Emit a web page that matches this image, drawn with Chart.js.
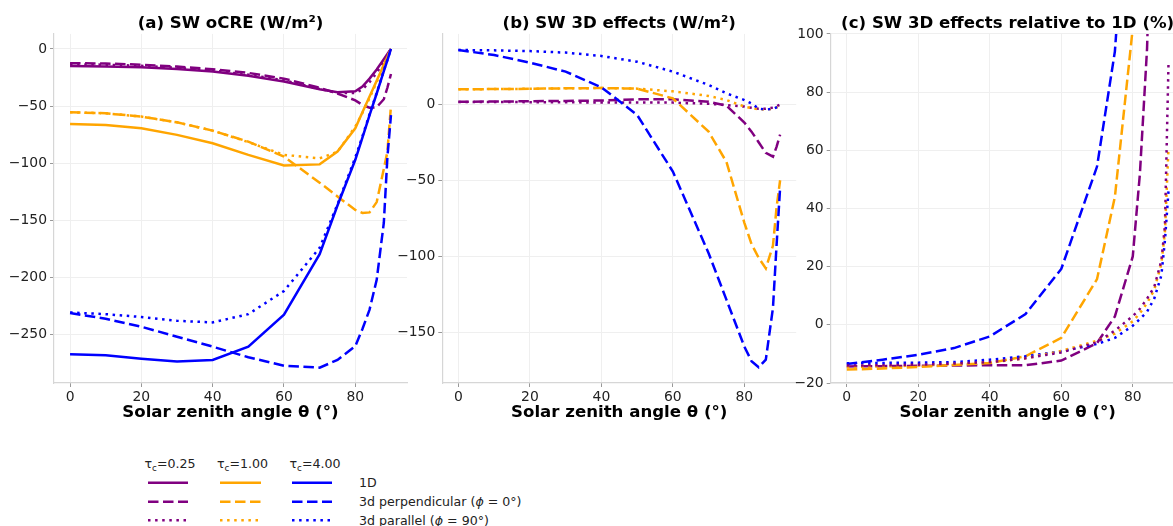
<!DOCTYPE html>
<html><head><meta charset="utf-8">
<script src="https://cdn.jsdelivr.net/npm/chart.js@4.4.1/dist/chart.umd.min.js"></script>
<style>
html,body{margin:0;padding:0;background:#fff;overflow:hidden;width:1173px;height:526px;}
#wrap{position:relative;width:1173px;height:526px;overflow:hidden;background:#fff;}
canvas{position:absolute;top:0;}
.leg{position:absolute;font-family:"DejaVu Sans",sans-serif;font-size:12.6px;line-height:17px;color:#222;white-space:nowrap;}
.c{transform:translateX(-50%);}
sub{font-size:70%;vertical-align:-3px;line-height:0;}
</style></head><body><div id="wrap">
<canvas id="ca" width="420" height="430" style="left:0px;width:420px;height:430px"></canvas>
<canvas id="cb" width="405" height="430" style="left:395px;width:405px;height:430px"></canvas>
<canvas id="cc" width="400" height="430" style="left:790px;width:400px;height:430px"></canvas>
<svg id="legsvg" width="400" height="86" style="position:absolute;left:0;top:440px"></svg>
<div class="leg c" style="left:170px;top:455px">τ<sub>c</sub>=0.25</div>
<div class="leg c" style="left:242.5px;top:455px">τ<sub>c</sub>=1.00</div>
<div class="leg c" style="left:315px;top:455px">τ<sub>c</sub>=4.00</div>
<div class="leg" style="left:359px;top:474px">1D</div>
<div class="leg" style="left:359px;top:493px">3d perpendicular (<i>ϕ</i> = 0°)</div>
<div class="leg" style="left:359px;top:511.5px">3d parallel (<i>ϕ</i> = 90°)</div>
</div>
<script>
// ---- data ----
const theta = [0,10,20,30,40,50,60,70,75,80,82,84,86,88,89,90];
const xTicks = [0,20,40,60,80];

// (a) SW oCRE (W/m²)
const a1D_025   = [-15,-15.3,-16,-17.5,-19.8,-23.5,-28.6,-35.3,-38,-37,-33,-26,-18,-9,-4.5,0];
const aPerp_025 = [-12.5,-12.8,-13.8,-15.5,-17.8,-21,-26,-34,-39,-45,-49,-51.5,-51,-44,-34,-22];
const aPar_025  = [-13.5,-13.8,-14.8,-16.5,-19,-22.5,-27.5,-35,-38.5,-38.5,-35.5,-29,-21,-11,-5.5,0];
const a1D_100   = [-65.6,-66.5,-69.4,-75.2,-82.5,-92.7,-102,-101,-89.8,-69.4,-55.5,-41.6,-27.8,-13.9,-7,0];
const aPerp_100 = [-55.4,-56.3,-59.2,-64.2,-71.5,-81.1,-94.2,-117,-129,-140.9,-143.5,-143,-134,-105,-90,-50];
const aPar_100  = [-55.4,-56.3,-59.2,-64.2,-71.5,-81.5,-92.7,-95.7,-90,-68,-56,-43,-29,-14.5,-7,0];
const a1D_400   = [-267,-268,-271,-273.5,-272,-260.5,-232.5,-179.5,-137,-97,-77.5,-58,-39,-19.5,-10,0];
const aPerp_400 = [-231,-236,-243,-251.7,-260.4,-269.7,-277.1,-278.8,-272,-260,-245,-228,-202,-152,-95,-58];
const aPar_400  = [-230.5,-232,-234.5,-237.8,-239.2,-232,-211.7,-174,-136,-95,-76.5,-57,-38.5,-19,-9.5,0];
const yTicksA = [0,-50,-100,-150,-200,-250];

// (b) SW 3D effects (W/m²)
const bPerp_025 = [1.7,1.8,2,2.2,2.5,3.3,3.3,1.7,-1,-12,-18,-25,-32,-34.5,-28,-20];
const bPar_025  = [1.5,1.5,1.4,1.3,1.2,1.1,1.1,0.3,-0.5,-1.5,-2.3,-3,-3,-2.2,-1.2,-0.3];
const bPerp_100 = [9.9,10,10.2,10.5,10.7,10.3,3.9,-18,-38,-78,-92,-101,-108,-93,-68,-50];
const bPar_100  = [9.9,10,10.2,10.5,10.7,10.3,8.5,5.5,2.8,-1.5,-2.5,-3.3,-3.4,-3,-2,-0.8];
const bPerp_400 = [35.7,32.4,27.4,21.5,11.2,-7,-44.3,-98,-128.7,-159.5,-169,-173,-168,-134,-93,-55];
const bPar_400  = [35.7,35.5,35,34,31.8,28,21.5,12.7,7.2,2.8,0.5,-2.8,-3.5,-3,-2,-1];
const yTicksB = [0,-50,-100,-150];

// (c) SW 3D effects relative to 1D (%)
const cPerp_025 = [-14.3,-14.2,-14.1,-14,-13.9,-13.9,-12.3,-6.3,2.9,23.5,52,95,180,400,700,null];
const cPar_025  = [-14,-13.9,-13.7,-13.3,-12.8,-11.5,-9.5,-6,-2,3,5.5,9,13,22,34,90];
const cPerp_100 = [-15.4,-15,-14.5,-13.8,-13.1,-10.8,-4.5,15.7,44,102,170,250,380,650,1000,null];
const cPar_100  = [-14.5,-14.3,-14,-13.5,-13,-11.5,-9,-5.5,-3,1.2,4,7.5,12,21,32,61];
const cPerp_400 = [-13.5,-12,-10.3,-8,-4,3.7,19.2,54.4,94,180,260,380,600,1000,1800,null];
const cPar_400  = [-13.2,-13.1,-13,-12.8,-12,-10.8,-9.1,-6.6,-4.5,-0.3,2,4.5,9,17,29,46];
const yTicksC = [-20,0,20,40,60,80,100];

// ---- styles ----
const PURPLE='#800080', ORANGE='#FFA500', BLUE='#0000FF';
const DASH = {solid:[], dashed:[10.5,4.5], dotted:[2.5,4.6]};
const LW = 2.5;
const FONT = '"DejaVu Sans", sans-serif';
const fmt = v => String(v).replace('-', '\u2212');

function mk(values, color, style){
  return {
    data: theta.map((t,i)=>({x:t, y:values[i]})),
    borderColor: color, backgroundColor: color, borderWidth: LW,
    borderDash: DASH[style], borderCapStyle:'butt', borderJoinStyle:'miter',
    pointRadius:0, pointHoverRadius:0, fill:false, tension:0, spanGaps:false
  };
}

function panel(id, title, datasets, yMin, yMax, yTicks, yW, padRight){
  new Chart(document.getElementById(id), {
    type:'line',
    data:{datasets},
    options:{
      responsive:false, animation:false, events:[],
      layout:{padding:{left:0,right:padRight,top:0,bottom:0}},
      plugins:{
        legend:{display:false}, tooltip:{enabled:false},
        title:{display:true, text:title, fullSize:false, color:'#000',
          font:{family:FONT,size:16.6,weight:'bold'}, padding:{top:14,bottom:0}}
      },
      scales:{
        x:{type:'linear', min:-4.5, max:94.5,
          afterBuildTicks: s=>{ s.ticks = xTicks.map(v=>({value:v})); },
          afterFit: s=>{ s.height = 47; },
          grid:{color:'#efefef', lineWidth:1, tickLength:4, tickColor:'#999', drawTicks:true},
          border:{color:'#d6d6d6', width:1.2},
          ticks:{color:'#222', font:{family:FONT,size:13.9}, padding:2, maxRotation:0, autoSkip:false, callback:fmt},
          title:{display:true, text:'Solar zenith angle θ (°)', color:'#000',
            font:{family:FONT,size:16.6,weight:'bold'}, padding:{top:0,bottom:7}}
        },
        y:{type:'linear', min:yMin, max:yMax,
          afterBuildTicks: s=>{ s.ticks = yTicks.map(v=>({value:v})); },
          afterFit: s=>{ s.width = yW; },
          grid:{color:'#efefef', lineWidth:1, tickLength:4, tickColor:'#999', drawTicks:true},
          border:{color:'#d6d6d6', width:1.2},
          ticks:{color:'#222', font:{family:FONT,size:13.9}, padding:3, autoSkip:false, callback:fmt}
        }
      }
    }
  });
}

panel('ca','(a) SW oCRE (W/m²)', [
  mk(aPar_400,BLUE,'dotted'), mk(aPerp_400,BLUE,'dashed'), mk(a1D_400,BLUE,'solid'),
  mk(aPar_100,ORANGE,'dotted'), mk(aPerp_100,ORANGE,'dashed'), mk(a1D_100,ORANGE,'solid'),
  mk(aPar_025,PURPLE,'dotted'), mk(aPerp_025,PURPLE,'dashed'), mk(a1D_025,PURPLE,'solid')
], -292.2, 13.1, yTicksA, 54, 13);

panel('cb','(b) SW 3D effects (W/m²)', [
  mk(bPar_400,BLUE,'dotted'), mk(bPerp_400,BLUE,'dashed'),
  mk(bPar_100,ORANGE,'dotted'), mk(bPerp_100,ORANGE,'dashed'),
  mk(bPar_025,PURPLE,'dotted'), mk(bPerp_025,PURPLE,'dashed')
], -183.4, 46.3, yTicksB, 47.3, 3.8);

panel('cc','(c) SW 3D effects relative to 1D (%)', [
  mk(cPar_025,PURPLE,'dotted'), mk(cPar_100,ORANGE,'dotted'), mk(cPar_400,BLUE,'dotted'),
  mk(cPerp_400,BLUE,'dashed'), mk(cPerp_100,ORANGE,'dashed'), mk(cPerp_025,PURPLE,'dashed')
], -20, 100, yTicksC, 40.7, 5.4);

// ---- legend samples ----
const svg = document.getElementById('legsvg');
const NS = 'http://www.w3.org/2000/svg';
const legCols = [[PURPLE,148,188],[ORANGE,220,261],[BLUE,292,332]];
const legRows = [['solid',42.7],['dashed',61.7],['dotted',80.3]];
legRows.forEach(([st,y])=>{
  legCols.forEach(([col,x1,x2])=>{
    const l = document.createElementNS(NS,'line');
    l.setAttribute('x1',x1); l.setAttribute('x2',x2);
    l.setAttribute('y1',y); l.setAttribute('y2',y);
    l.setAttribute('stroke',col); l.setAttribute('stroke-width',LW);
    if (DASH[st].length) l.setAttribute('stroke-dasharray',DASH[st].join(' '));
    svg.appendChild(l);
  });
});
</script>
</body></html>
